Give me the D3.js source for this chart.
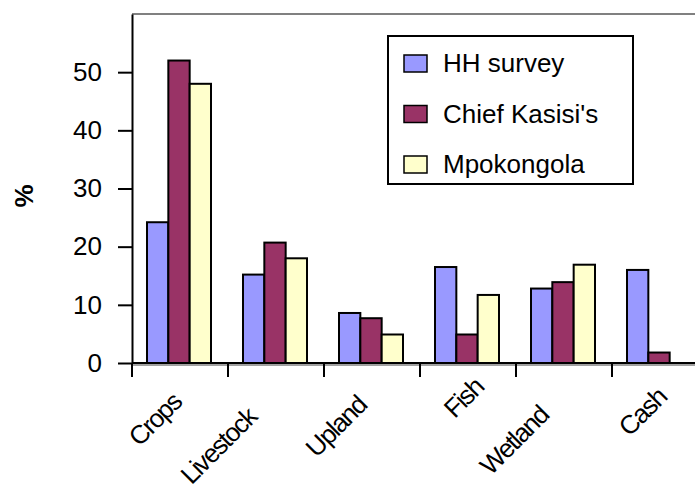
<!DOCTYPE html>
<html>
<head>
<meta charset="utf-8">
<script src="https://cdn.jsdelivr.net/npm/d3@7"></script>
<style>
body{margin:0;background:#fff}
svg{display:block;font-family:Arial,"Liberation Sans",sans-serif}
</style>
</head>
<body>
<svg id="incomegraph"></svg>
<script>
//values
var categories = ["Crops","Livestock","Upland","Fish","Wetland","Cash"]
var seriesNames = ["HH survey","Chief Kasisi's","Mpokongola"]
var hhSurvey = [24.2,15.2,8.6,16.5,12.8,16.0]
var chiefKasisi = [52,20.7,7.7,4.9,13.9,1.8]
var mpokongola = [48,18,4.9,11.7,16.9,0]
var yTicks = [0,10,20,30,40,50]

var colors = ["#9999ff","#993366","#ffffcc"]
//the category labels in the original sit a bit uneven, nudge each one
var labelNudge = [{dx:3,dy:41},{dx:-18,dy:56},{dx:-4,dy:44},{dx:17,dy:26},{dx:-14,dy:54},{dx:8,dy:36}]

var drawAxes = function(target,graph,xScale,yScale)
{
    //grey plot frame, only top and bottom show
    target.append("line")
          .attr("x1",0).attr("x2",graph.width)
          .attr("y1",0).attr("y2",0)
          .attr("stroke","#808080").attr("stroke-width",2)
    target.append("line")
          .attr("x1",0).attr("x2",graph.width)
          .attr("y1",graph.height+2).attr("y2",graph.height+2)
          .attr("stroke","#a0a0a0").attr("stroke-width",2)

    var yAxis = d3.axisLeft(yScale)
                  .tickValues(yTicks)
                  .tickSize(14)
                  .tickSizeOuter(0)
                  .tickPadding(16)
    var ya = target.append("g").call(yAxis)
    ya.select(".domain").attr("stroke-width",2)
    ya.selectAll(".tick line").attr("stroke-width",2)
    ya.selectAll(".tick text")
      .attr("font-size",26)
      .attr("font-family","Arial, 'Liberation Sans', sans-serif")
      .attr("fill","#000")

    //x axis line
    target.append("line")
          .attr("x1",0).attr("x2",graph.width)
          .attr("y1",graph.height).attr("y2",graph.height)
          .attr("stroke","#000").attr("stroke-width",2)

    //ticks between the categories
    target.selectAll(".xtick")
          .data(categories)
          .enter()
          .append("line")
          .classed("xtick",true)
          .attr("x1",function(c){return xScale(c)})
          .attr("x2",function(c){return xScale(c)})
          .attr("y1",graph.height)
          .attr("y2",graph.height+14)
          .attr("stroke","#000").attr("stroke-width",2)

    target.selectAll(".xlabel")
          .data(categories)
          .enter()
          .append("text")
          .classed("xlabel",true)
          .text(function(c){return c})
          .attr("font-size",26)
          .attr("letter-spacing",-1.6)
          .attr("text-anchor","end")
          .attr("transform",function(c,i)
          {
              var x = xScale(c)+xScale.bandwidth()/2+labelNudge[i].dx
              var y = graph.height+labelNudge[i].dy
              return "translate("+x+","+y+") rotate(-45)"
          })
}

var drawLabels = function(svg,margins,graph)
{
    svg.append("g")
       .attr("transform","translate(33,"+(margins.top+182)+")")
       .append("text")
       .text("%")
       .attr("font-size",26)
       .attr("font-weight","bold")
       .attr("text-anchor","middle")
       .attr("transform","rotate(-90)")
}

var drawLegend = function(svg)
{
    var legend = svg.append("g")
                    .classed("legend",true)
                    .attr("transform","translate(388,36)")

    legend.append("rect")
          .attr("width",245)
          .attr("height",148)
          .attr("fill","#fff")
          .attr("stroke","#000")
          .attr("stroke-width",2)

    var entries = legend.selectAll(".legendEntry")
                        .data(seriesNames)
                        .enter()
                        .append("g")
                        .classed("legendEntry",true)
                        .attr("transform",function(name,index)
                        {
                            return "translate(0,"+(19+index*50.5)+")"
                        })

    entries.append("rect")
           .attr("x",16)
           .attr("width",23)
           .attr("height",17)
           .attr("fill",function(name,i){return colors[i]})
           .attr("stroke","#000")
           .attr("stroke-width",1.5)

    entries.append("text")
           .text(function(name){return name})
           .attr("x",55)
           .attr("y",17)
           .attr("font-size",26)
}

var initGraph = function()
{
    var screen = {width:695,height:492}
    var margins = {left:132,right:-13,top:14,bottom:129}
    var graph =
        {
            width:screen.width-margins.left-margins.right,
            height:screen.height-margins.top-margins.bottom
        }

    var svg = d3.select("#incomegraph")
                .attr("width",screen.width)
                .attr("height",screen.height)

    var target = svg.append("g")
                    .attr("transform","translate("+margins.left+","+margins.top+")")

    var xScale = d3.scaleBand()
                   .domain(categories)
                   .range([0,graph.width])

    var innerScale = d3.scaleBand()
                       .domain(seriesNames)
                       .range([15,79])

    var yScale = d3.scaleLinear()
                   .domain([0,60])
                   .range([graph.height,0])

    var series = [hhSurvey,chiefKasisi,mpokongola]
    var bars = []
    categories.forEach(function(c,ci)
    {
        seriesNames.forEach(function(s,si)
        {
            bars.push({cat:c,name:s,index:si,value:series[si][ci]})
        })
    })

    drawAxes(target,graph,xScale,yScale)

    target.selectAll(".bar")
          .data(bars.filter(function(b){return b.value>0}))
          .enter()
          .append("rect")
          .classed("bar",true)
          .attr("x",function(b){return xScale(b.cat)+innerScale(b.name)})
          .attr("width",innerScale.bandwidth())
          .attr("y",function(b){return yScale(b.value)})
          .attr("height",function(b){return yScale(0)-yScale(b.value)})
          .attr("fill",function(b){return colors[b.index]})
          .attr("stroke","#000")
          .attr("stroke-width",2)

    drawLabels(svg,margins,graph)
    drawLegend(svg)
}

initGraph()
</script>
</body>
</html>
